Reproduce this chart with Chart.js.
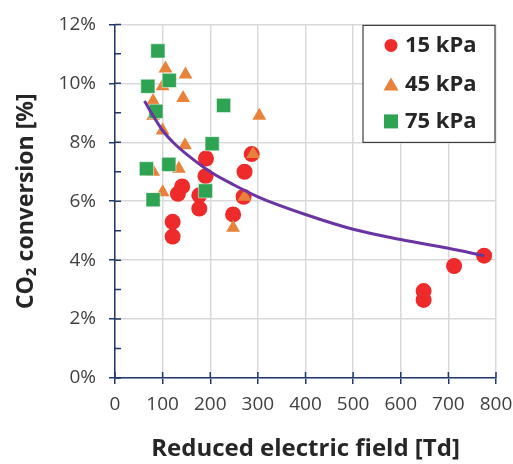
<!DOCTYPE html>
<html>
<head>
<meta charset="utf-8">
<script src="https://cdn.jsdelivr.net/npm/chart.js@4.4.0/dist/chart.umd.min.js"></script>
<style>
  html, body { margin: 0; padding: 0; background: #fff; }
  #wrap { width: 513px; height: 464px; }
</style>
</head>
<body>
<div id="wrap"><canvas id="chart" width="513" height="464"></canvas></div>
<script>
// values (x in Td, y in %)
const x15 = [287, 191, 272, 190, 141, 132, 177, 177, 270, 248, 121, 121, 775, 712, 648, 648];
const y15 = [7.6, 7.45, 7.0, 6.85, 6.5, 6.25, 6.2, 5.75, 6.15, 5.55, 5.3, 4.8, 4.15, 3.8, 2.95, 2.65];

const x45 = [106, 148, 100, 143, 80, 80, 100, 303, 147, 290, 80, 134, 100, 272, 248];
const y45 = [10.5, 10.3, 9.9, 9.5, 9.4, 8.9, 8.4, 8.9, 7.9, 7.6, 7.0, 7.1, 6.3, 6.15, 5.1];

const x75 = [90, 114, 69, 86, 228, 204, 66, 113, 190, 80];
const y75 = [11.1, 10.1, 9.9, 9.05, 9.25, 7.95, 7.1, 7.25, 6.35, 6.05];

// trend curve, read at a few points
const trendX = [62, 80, 100, 125, 150, 200, 250, 300, 400, 500, 600, 700, 775];
const trendY = [9.4, 8.9, 8.4, 7.95, 7.6, 7.0, 6.55, 6.15, 5.55, 5.05, 4.7, 4.4, 4.15];

const seriesNames = ['15 kPa', '45 kPa', '75 kPa'];
const xTitle = 'Reduced electric field [Td]';
const yTitle = 'CO\u2082 conversion [%]';

const RED = '#EE2A2A', ORANGE = '#E8823A', GREEN = '#2EA352', PURPLE = '#6A34A2';
const NAVY = '#22386A', GRID = '#D9D9D9';
const FONT = 'Open Sans';

function pts(xs, ys) {
    return xs.map((x, i) => ({ x: x, y: ys[i] }));
}

// inner halves of the axis ticks + minor ticks on y
const tickPlugin = {
    id: 'innerTicks',
    afterDraw(chart) {
        const ctx = chart.ctx;
        const xs = chart.scales.x, ys = chart.scales.y;
        const a = chart.chartArea;
        ctx.save();
        ctx.strokeStyle = NAVY;
        ctx.lineWidth = 1.5;
        ctx.beginPath();
        xs.ticks.forEach(t => {
            const px = xs.getPixelForValue(t.value);
            ctx.moveTo(px, a.bottom);
            ctx.lineTo(px, a.bottom - 6);
        });
        for (let v = 0; v <= 12; v += 1) {
            const py = ys.getPixelForValue(v);
            ctx.moveTo(a.left, py);
            ctx.lineTo(a.left + 6, py);
        }
        ctx.stroke();
        ctx.restore();
    }
};

// legend box drawn inside the plot, top right
const boxLegend = {
    id: 'boxLegend',
    afterDraw(chart) {
        const ctx = chart.ctx;
        const a = chart.chartArea;
        const left = a.right - 133, top = a.top + 1, w = 132, h = 117;
        ctx.save();
        ctx.fillStyle = '#fff';
        ctx.fillRect(left, top, w, h);
        ctx.strokeStyle = '#404040';
        ctx.lineWidth = 1.2;
        ctx.strokeRect(left, top, w, h);
        const rows = [20, 59, 96];
        const styles = [
            { c: RED, s: 'circle' },
            { c: ORANGE, s: 'triangle' },
            { c: GREEN, s: 'rect' }
        ];
        ctx.font = 'bold 22px "' + FONT + '"';
        ctx.textBaseline = 'middle';
        rows.forEach((dy, i) => {
            const cx = left + 28, cy = top + dy;
            ctx.fillStyle = styles[i].c;
            ctx.beginPath();
            if (styles[i].s === 'circle') {
                ctx.arc(cx, cy, 6.5, 0, Math.PI * 2);
            } else if (styles[i].s === 'triangle') {
                ctx.moveTo(cx, cy - 7);
                ctx.lineTo(cx + 7.5, cy + 6);
                ctx.lineTo(cx - 7.5, cy + 6);
                ctx.closePath();
            } else {
                ctx.rect(cx - 7, cy - 7, 14, 14);
            }
            ctx.fill();
            ctx.fillStyle = '#262626';
            ctx.fillText(seriesNames[i], left + 42, cy);
        });
        ctx.restore();
    }
};

new Chart(document.getElementById('chart'), {
    type: 'scatter',
    data: {
        datasets: [
            {
                type: 'line',
                label: 'trend',
                data: pts(trendX, trendY),
                borderColor: PURPLE,
                borderWidth: 3,
                pointRadius: 0,
                fill: false,
                cubicInterpolationMode: 'monotone',
                order: 0
            },
            {
                label: seriesNames[2],
                data: pts(x75, y75),
                pointStyle: 'rect',
                pointRadius: 10,
                backgroundColor: GREEN,
                borderColor: '#fff',
                borderWidth: 0.5,
                order: 1
            },
            {
                label: seriesNames[1],
                data: pts(x45, y45),
                pointStyle: 'triangle',
                pointRadius: 8,
                backgroundColor: ORANGE,
                borderColor: ORANGE,
                borderWidth: 0,
                order: 2
            },
            {
                label: seriesNames[0],
                data: pts(x15, y15),
                pointStyle: 'circle',
                pointRadius: 8,
                backgroundColor: RED,
                borderColor: RED,
                borderWidth: 0,
                order: 3
            }
        ]
    },
    options: {
        responsive: false,
        animation: false,
        layout: { padding: { top: 22, right: 0, left: 0, bottom: 0 } },
        plugins: {
            legend: { display: false },
            tooltip: { enabled: false }
        },
        scales: {
            x: {
                type: 'linear',
                min: 0,
                max: 800,
                ticks: {
                    stepSize: 100,
                    color: '#404040',
                    font: { family: FONT, size: 19 },
                    padding: 9
                },
                grid: { color: GRID, lineWidth: 1.5, tickColor: NAVY, tickLength: 6 },
                border: { color: NAVY, width: 1.5 },
                title: {
                    display: true,
                    text: xTitle,
                    color: '#262626',
                    font: { family: FONT, size: 24, weight: 'bold' },
                    padding: { top: 0, bottom: 0 }
                },
                afterFit(scale) {
                    scale.height = 86;
                    scale.paddingLeft = 0;
                    scale.paddingRight = 17;
                }
            },
            y: {
                min: 0,
                max: 12,
                ticks: {
                    stepSize: 2,
                    color: '#404040',
                    font: { family: FONT, size: 19 },
                    padding: 13,
                    callback: v => v + '%'
                },
                grid: { color: GRID, lineWidth: 1.5, tickColor: NAVY, tickLength: 6 },
                border: { color: NAVY, width: 1.5 },
                title: {
                    display: true,
                    text: yTitle,
                    color: '#262626',
                    font: { family: FONT, size: 23, weight: 'bold' },
                    padding: { top: 13, bottom: 0 }
                },
                afterFit(scale) { scale.width = 115; }
            }
        }
    },
    plugins: [tickPlugin, boxLegend]
});
</script>
</body>
</html>
